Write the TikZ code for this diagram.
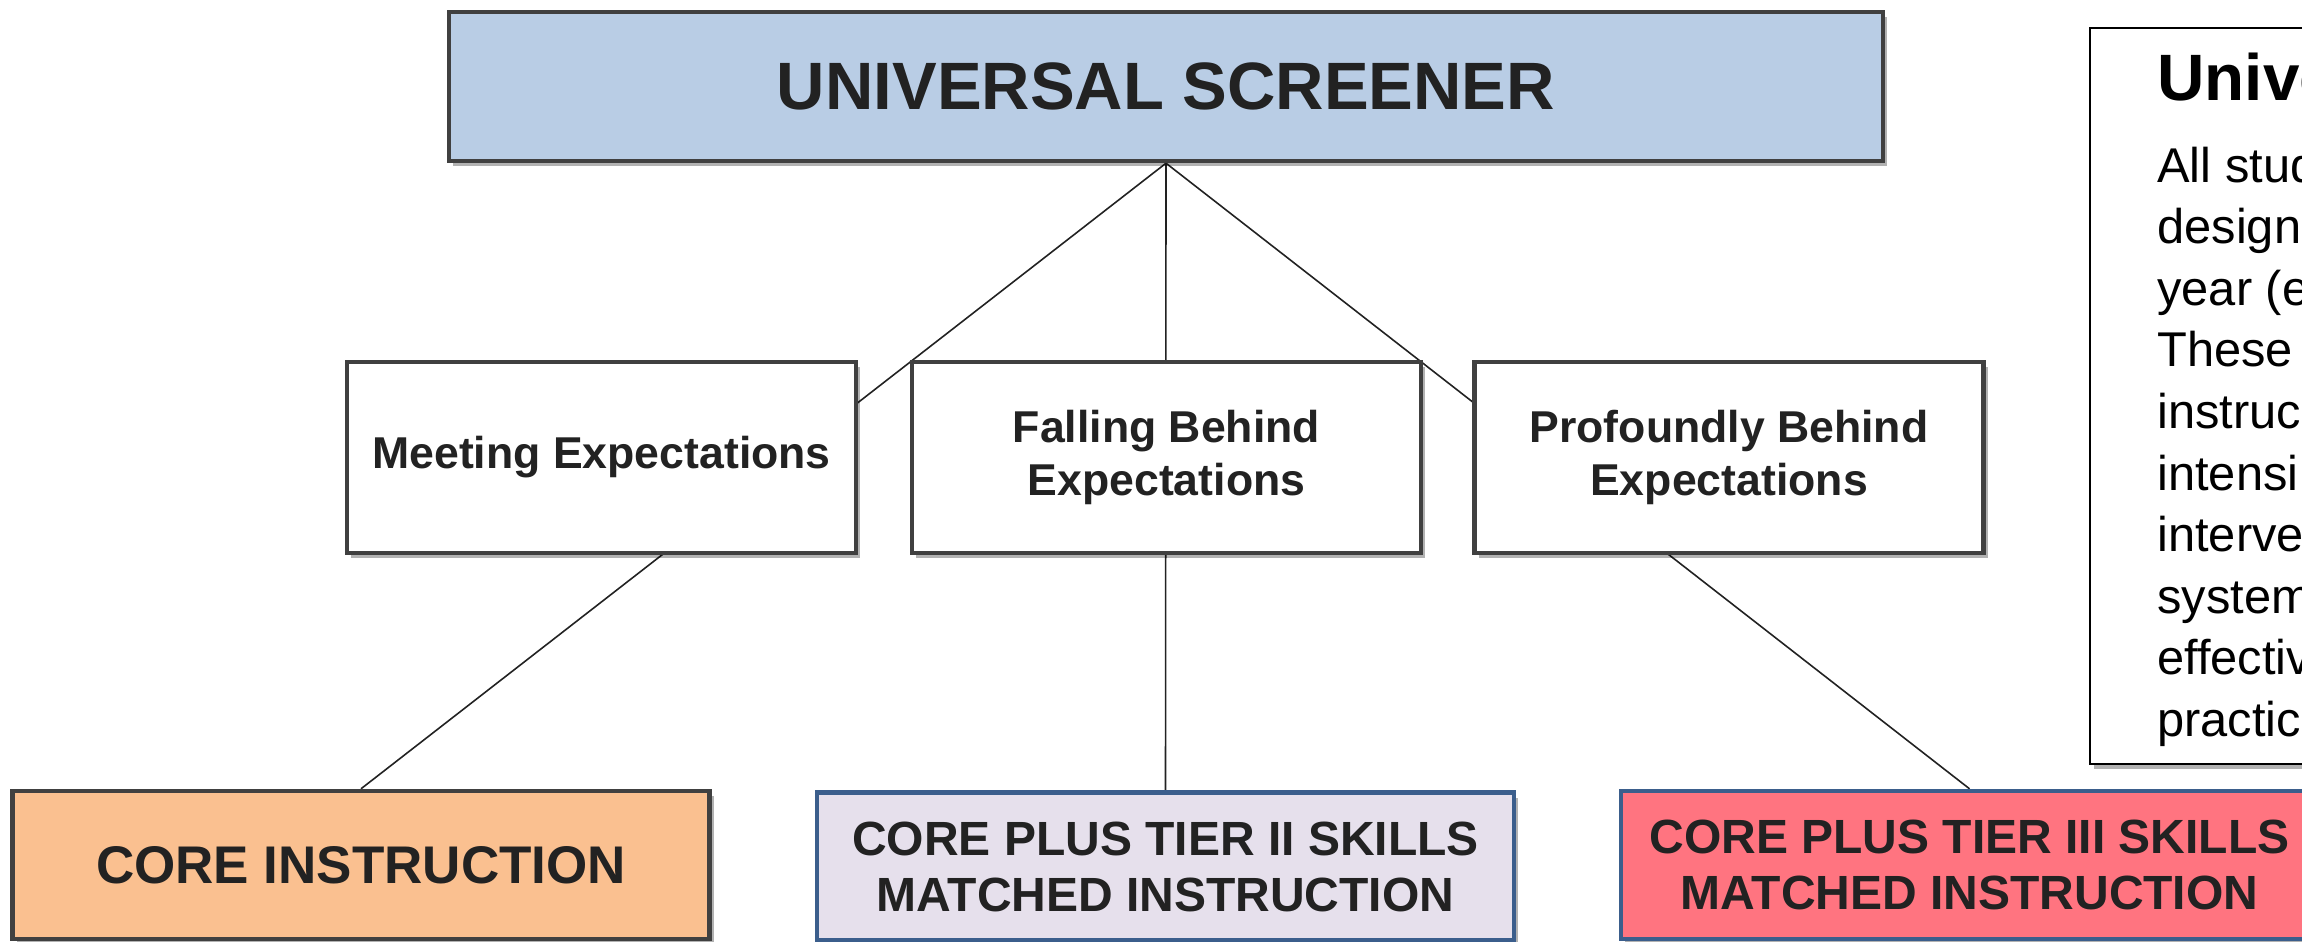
\documentclass[tikz,border=0pt]{standalone}
\usepackage{fontspec}
\setmainfont{Liberation Sans}
\usetikzlibrary{shadows}
\usetikzlibrary{backgrounds}

\definecolor{screenblue}{HTML}{B9CDE5}
\definecolor{coreorange}{HTML}{FAC090}
\definecolor{tiertwolilac}{HTML}{E6E0EC}
\definecolor{tierthreered}{HTML}{FF7480}
\definecolor{edgegray}{HTML}{404040}
\definecolor{edgeblue}{HTML}{3B5E8C}
\definecolor{inkgray}{HTML}{222222}

\tikzset{
  boxshadow/.style={drop shadow={shadow xshift=2pt, shadow yshift=-2.5pt, opacity=.3, fill=black}},
  levelbox/.style={draw=edgegray, line width=2.2pt, boxshadow, text=inkgray, align=center,
    font=\fontsize{22.3}{26.4}\selectfont\bfseries, minimum width=254.5pt, minimum height=95.5pt, inner sep=0pt},
  tierbox/.style={draw=edgeblue, line width=2.2pt, boxshadow, text=inkgray, align=center,
    font=\fontsize{24}{28}\selectfont\bfseries, minimum width=348.5pt, minimum height=74pt, inner sep=0pt}
}

\begin{document}
\begin{tikzpicture}[x=0.5pt, y=-0.5pt]
\path[use as bounding box, clip] (0,0) rectangle (2302,942);

% top
\node[levelbox, fill=screenblue, minimum width=717pt, minimum height=74.5pt,
  font=\fontsize{33.5}{38}\selectfont\bfseries] (screener) at (1166,86.5) {UNIVERSAL SCREENER};

% middle row
\node[levelbox, fill=white] (meet) at (601.5,457.5) {Meeting Expectations};
\node[levelbox, fill=white] (fall) at (1166.5,457.5) {Falling Behind\\Expectations};
\node[levelbox, fill=white] (prof) at (1729,457.5) {Profoundly Behind\\Expectations};

% bottom row
\node[tierbox, draw=edgegray, fill=coreorange, font=\fontsize{26.5}{30}\selectfont\bfseries] (core) at (361,865) {CORE INSTRUCTION};
\node[tierbox, fill=tiertwolilac] (tiertwo) at (1165.5,866.5) {CORE PLUS TIER II SKILLS\\MATCHED INSTRUCTION};
\node[tierbox, fill=tierthreered] (tierthree) at (1969.5,865) {CORE PLUS TIER III SKILLS\\MATCHED INSTRUCTION};

\begin{scope}[on background layer]
\draw[inkgray, line width=0.8pt] (screener.south) -- (core.north);
\draw[inkgray, line width=0.8pt] (screener.south) -- (tiertwo.north);
\draw[inkgray, line width=0.8pt] (screener.south) -- (tierthree.north);
\end{scope}

% side note
\node[draw=black, line width=1pt, fill=white, boxshadow, anchor=north west,
  minimum width=220pt, minimum height=368pt, inner sep=0pt] (note) at (2089,27) {};
\node[anchor=base west, inner sep=0pt, font=\fontsize{32.8}{38}\selectfont\bfseries] (notetitle) at (2157,100) {Unive};
\foreach \t [count=\i from 0] in {All stud, design, year (e, These, instruc, intensi, interve, system, effectiv, practic} {
  \node[anchor=base west, inner sep=0pt, font=\fontsize{24.4}{30}\selectfont] (noteline\i) at (2157,182+61.6*\i) {\t};
}
\end{tikzpicture}
\end{document}
